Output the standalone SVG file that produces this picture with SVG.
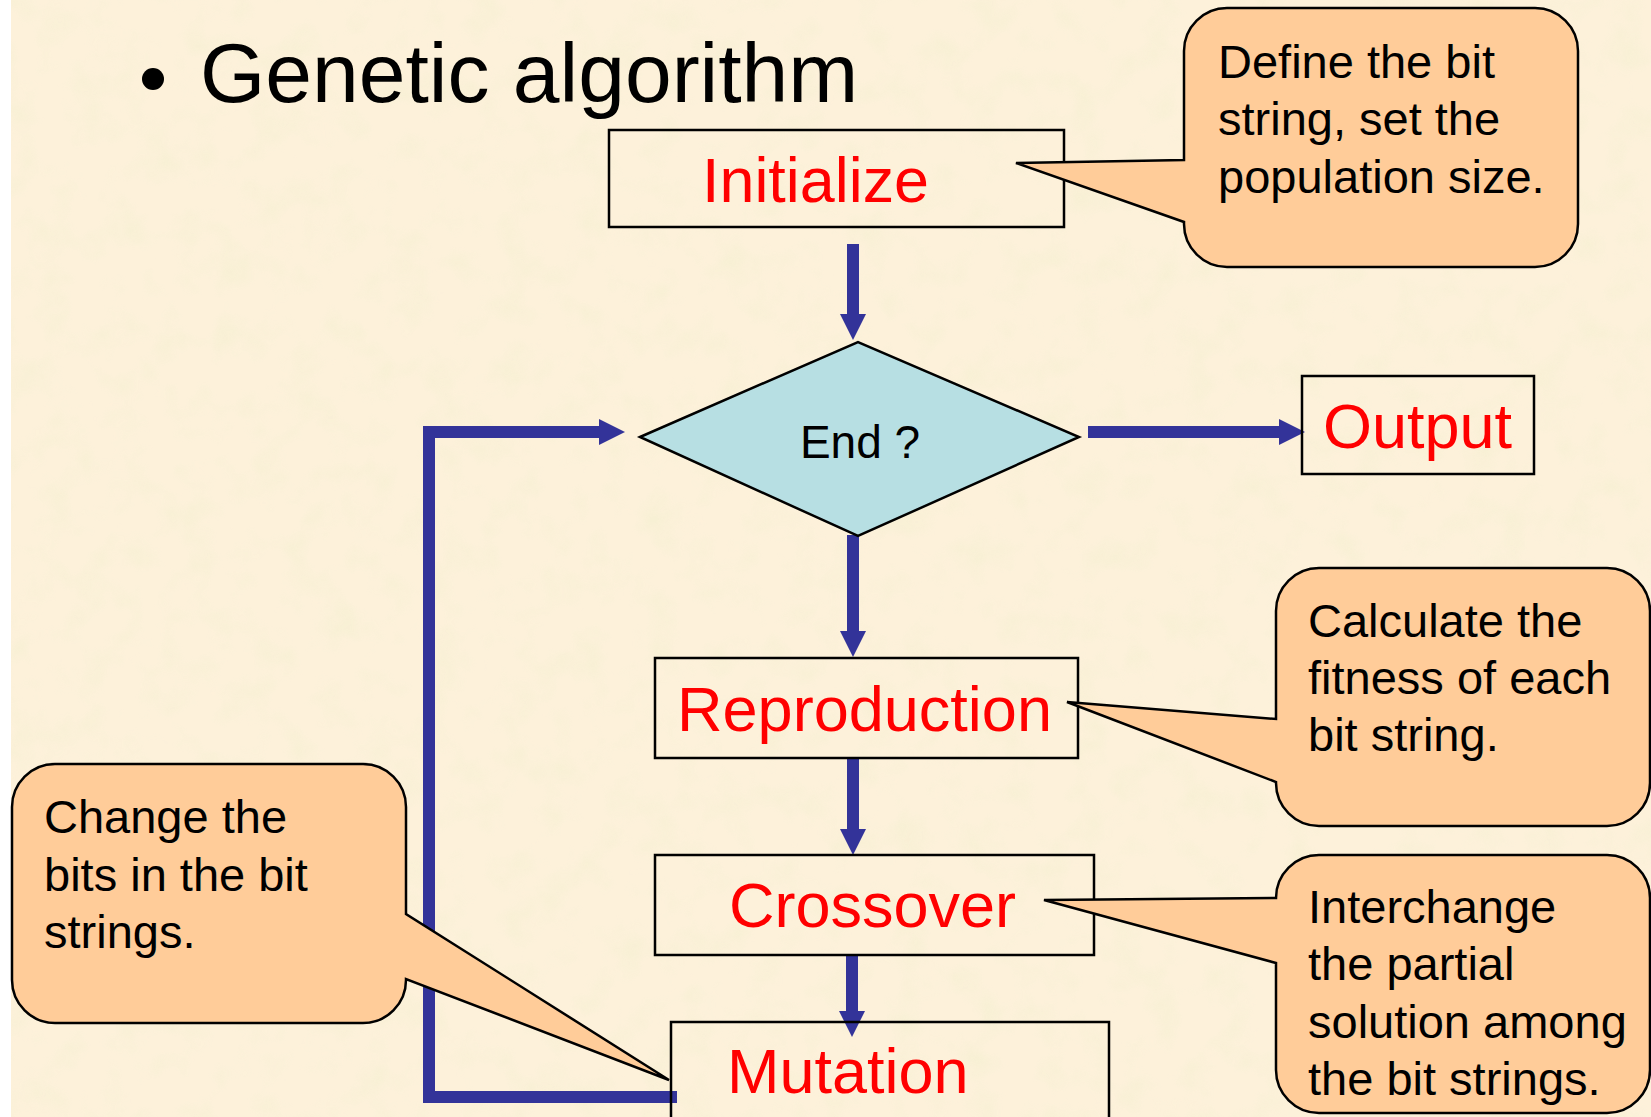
<svg xmlns="http://www.w3.org/2000/svg" width="1651" height="1117" viewBox="0 0 1651 1117">
  <defs>
    <filter id="paper" x="0" y="0" width="100%" height="100%">
      <feTurbulence type="fractalNoise" baseFrequency="0.028" numOctaves="3" seed="7"/>
      <feColorMatrix type="matrix" values="0 0 0 0 0.93  0 0 0 0 0.87  0 0 0 0 0.66  0 0 0 2.2 -1.0"/>
    </filter>
    <marker id="head" markerUnits="userSpaceOnUse" markerWidth="26" markerHeight="26" refX="0" refY="13" orient="auto">
      <path d="M0,0 L26,13 L0,26 z" fill="#333399"/>
    </marker>
    <style>
      .box { fill: none; stroke: #000; stroke-width: 2.5; }
      .step { font-family: "Liberation Sans", Arial, sans-serif; fill: #ff0000; }
      .note { font-family: "Liberation Sans", Arial, sans-serif; font-size: 47px; fill: #000; }
      .callout { fill: #ffcc99; stroke: #000; stroke-width: 2.5; stroke-linejoin: miter; }
      .flow { fill: none; stroke: #333399; stroke-width: 12; }
    </style>
  </defs>

  <!-- paper background -->
  <rect x="0" y="0" width="1651" height="1117" fill="#fdf1da"/>
  <rect x="0" y="0" width="1651" height="1117" filter="url(#paper)" opacity="0.85"/>
  <rect x="0" y="0" width="11" height="1117" fill="#ffffff"/>

  <!-- title -->
  <g id="title">
    <circle cx="153" cy="79" r="11" fill="#000"/>
    <text x="200" y="102" font-family="'Liberation Sans', Arial, sans-serif" font-size="84" fill="#000">Genetic algorithm</text>
  </g>

  <!-- connectors -->
  <g id="connectors">
    <line class="flow" x1="853" y1="244" x2="853" y2="314" marker-end="url(#head)"/>
    <line class="flow" x1="853" y1="535" x2="853" y2="631" marker-end="url(#head)"/>
    <line class="flow" x1="853" y1="758" x2="853" y2="829" marker-end="url(#head)"/>
    <line class="flow" x1="852" y1="955" x2="852" y2="1011" marker-end="url(#head)"/>
    <line class="flow" x1="1088" y1="432" x2="1279" y2="432" marker-end="url(#head)"/>
    <polyline class="flow" stroke-width="13" points="677,1097 429,1097 429,432 599,432" marker-end="url(#head)"/>
  </g>

  <!-- flow nodes -->
  <g id="initialize">
    <rect class="box" x="609" y="130" width="455" height="97"/>
    <text class="step" x="702" y="202" font-size="63" textLength="227" lengthAdjust="spacingAndGlyphs">Initialize</text>
  </g>
  <g id="end">
    <polygon points="640,437 858,342 1079,437 858,536" fill="#b7dfe3" stroke="#000" stroke-width="2.5"/>
    <text x="860" y="458" font-family="'Liberation Sans', Arial, sans-serif" font-size="46" text-anchor="middle" fill="#000">End ?</text>
  </g>
  <g id="output">
    <rect class="box" x="1302" y="376" width="232" height="98"/>
    <text class="step" x="1323" y="448" font-size="63">Output</text>
  </g>
  <g id="reproduction">
    <rect class="box" x="655" y="658" width="423" height="100"/>
    <text class="step" x="677" y="731" font-size="63" textLength="375" lengthAdjust="spacingAndGlyphs">Reproduction</text>
  </g>
  <g id="crossover">
    <rect class="box" x="655" y="855" width="439" height="100"/>
    <text class="step" x="729" y="927" font-size="63">Crossover</text>
  </g>
  <g id="mutation">
    <rect class="box" x="671" y="1022" width="438" height="110"/>
    <text class="step" x="727" y="1093" font-size="63">Mutation</text>
  </g>

  <!-- callouts -->
  <g id="note-initialize">
    <path class="callout" d="M1227,8 H1535 A43,43 0 0 1 1578,51 V224 A43,43 0 0 1 1535,267 H1227 A43,43 0 0 1 1184,224 V222 L1016,163 L1184,160 V51 A43,43 0 0 1 1227,8 Z"/>
    <text class="note" x="1218" y="78">Define the bit</text>
    <text class="note" x="1218" y="135">string, set the</text>
    <text class="note" x="1218" y="193">population size.</text>
  </g>
  <g id="note-reproduction">
    <path class="callout" d="M1319,568 H1607 A43,43 0 0 1 1650,611 V783 A43,43 0 0 1 1607,826 H1319 A43,43 0 0 1 1276,783 V782 L1067,702 L1276,719 V611 A43,43 0 0 1 1319,568 Z"/>
    <text class="note" x="1308" y="637">Calculate the</text>
    <text class="note" x="1308" y="694">fitness of each</text>
    <text class="note" x="1308" y="751">bit string.</text>
  </g>
  <g id="note-crossover">
    <path class="callout" d="M1319,855 H1607 A43,43 0 0 1 1650,898 V1070 A43,43 0 0 1 1607,1113 H1319 A43,43 0 0 1 1276,1070 V963 L1044,900 L1276,898 A43,43 0 0 1 1319,855 Z"/>
    <text class="note" x="1308" y="923">Interchange</text>
    <text class="note" x="1308" y="980">the partial</text>
    <text class="note" x="1308" y="1038">solution among</text>
    <text class="note" x="1308" y="1095">the bit strings.</text>
  </g>
  <g id="note-mutation">
    <path class="callout" d="M55,764 H363 A43,43 0 0 1 406,807 V914 L669,1080 L406,979 V980 A43,43 0 0 1 363,1023 H55 A43,43 0 0 1 12,980 V807 A43,43 0 0 1 55,764 Z"/>
    <text class="note" x="44" y="833">Change the</text>
    <text class="note" x="44" y="891">bits in the bit</text>
    <text class="note" x="44" y="948">strings.</text>
  </g>
</svg>
